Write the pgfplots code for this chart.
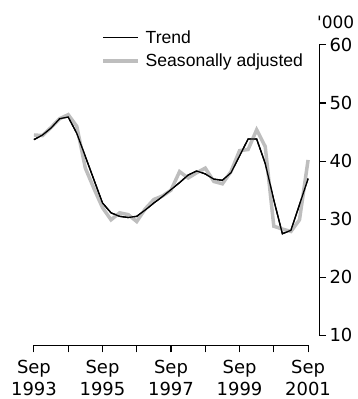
\documentclass[border=0pt]{standalone}
\usepackage{pgfplots}
\pgfplotsset{compat=1.18}
\usepackage{fontspec}
\setmainfont{Liberation Sans}
\newfontfamily\numfont{DejaVu Sans}
\definecolor{sagrey}{RGB}{190,190,190}
\begin{document}
\begin{tikzpicture}
\begin{axis}[
  at={(0,0)}, anchor=south west,
  scale only axis, width=274.6pt, height=291pt,
  xmin=0, xmax=32, ymin=10, ymax=60,
  axis x line*=bottom, axis y line*=right,
  axis x line shift=10pt, axis y line shift=11pt,
  axis line style={line width=1.1pt, -},
  xtick={0,4,...,32},
  xticklabels={Sep\\1993,,Sep\\1995,,Sep\\1997,,Sep\\1999,,Sep\\2001},
  xticklabel style={align=center, font=\numfont\fontsize{18}{21.7}\selectfont, yshift=-4.5pt},
  ytick={10,20,...,60},
  yticklabel style={font=\numfont\fontsize{18}{20}\selectfont, xshift=0pt},
  /pgf/number format/assume math mode=true,
  tick align=outside, major tick length=7pt,
  tick style={line width=1.1pt, black},
  clip=false,
  legend style={draw=none, fill=none, at={(0.245,1.057)}, anchor=north west,
    font=\fontsize{17.6}{19}\selectfont, row sep=5pt, inner sep=0pt},
  legend cell align=left,
  legend image code/.code={\draw[#1] (0pt,0pt) -- (35pt,0pt); \path (39pt,0pt);},
]
\addplot[black, line width=1.3pt] coordinates {
(0,43.7) (1,44.5) (2,45.7) (3,47.3) (4,47.6) (5,44.8) (6,40.8) (7,36.8) (8,32.8)
(9,31.1) (10,30.5) (11,30.3) (12,30.5) (13,31.6) (14,32.8) (15,33.9) (16,35.1)
(17,36.3) (18,37.6) (19,38.3) (20,37.8) (21,36.9) (22,36.7) (23,38.0) (24,40.9)
(25,43.8) (26,43.8) (27,39.6) (28,33.3) (29,27.5) (30,28.1) (31,32.5) (32,37.0)
};
\addlegendentry{Trend}
\addplot[sagrey, line width=3.5pt] coordinates {
(0,44.5) (1,44.4) (2,45.8) (3,47.3) (4,48.0) (5,46.0) (6,38.8) (7,35.3) (8,32.0)
(9,29.9) (10,31.1) (11,30.8) (12,29.6) (13,31.8) (14,33.4) (15,34.0) (16,35.0)
(17,38.2) (18,37.1) (19,38.0) (20,38.8) (21,36.5) (22,36.1) (23,38.2) (24,41.8)
(25,42.0) (26,45.4) (27,42.5) (28,28.8) (29,28.3) (30,27.9) (31,29.9) (32,40.2)
};
\addlegendentry{Seasonally adjusted}
\addplot[black, line width=1.3pt, forget plot] coordinates {
(0,43.7) (1,44.5) (2,45.7) (3,47.3) (4,47.6) (5,44.8) (6,40.8) (7,36.8) (8,32.8)
(9,31.1) (10,30.5) (11,30.3) (12,30.5) (13,31.6) (14,32.8) (15,33.9) (16,35.1)
(17,36.3) (18,37.6) (19,38.3) (20,37.8) (21,36.9) (22,36.7) (23,38.0) (24,40.9)
(25,43.8) (26,43.8) (27,39.6) (28,33.3) (29,27.5) (30,28.1) (31,32.5) (32,37.0)
};
\end{axis}
\node[anchor=base east, font=\numfont\fontsize{17}{20}\selectfont, inner sep=0pt] at (321pt,307.7pt) {\textquotesingle000};
\path[use as bounding box] (-34pt,-63pt) rectangle (324pt,336pt);
\end{tikzpicture}
\end{document}
